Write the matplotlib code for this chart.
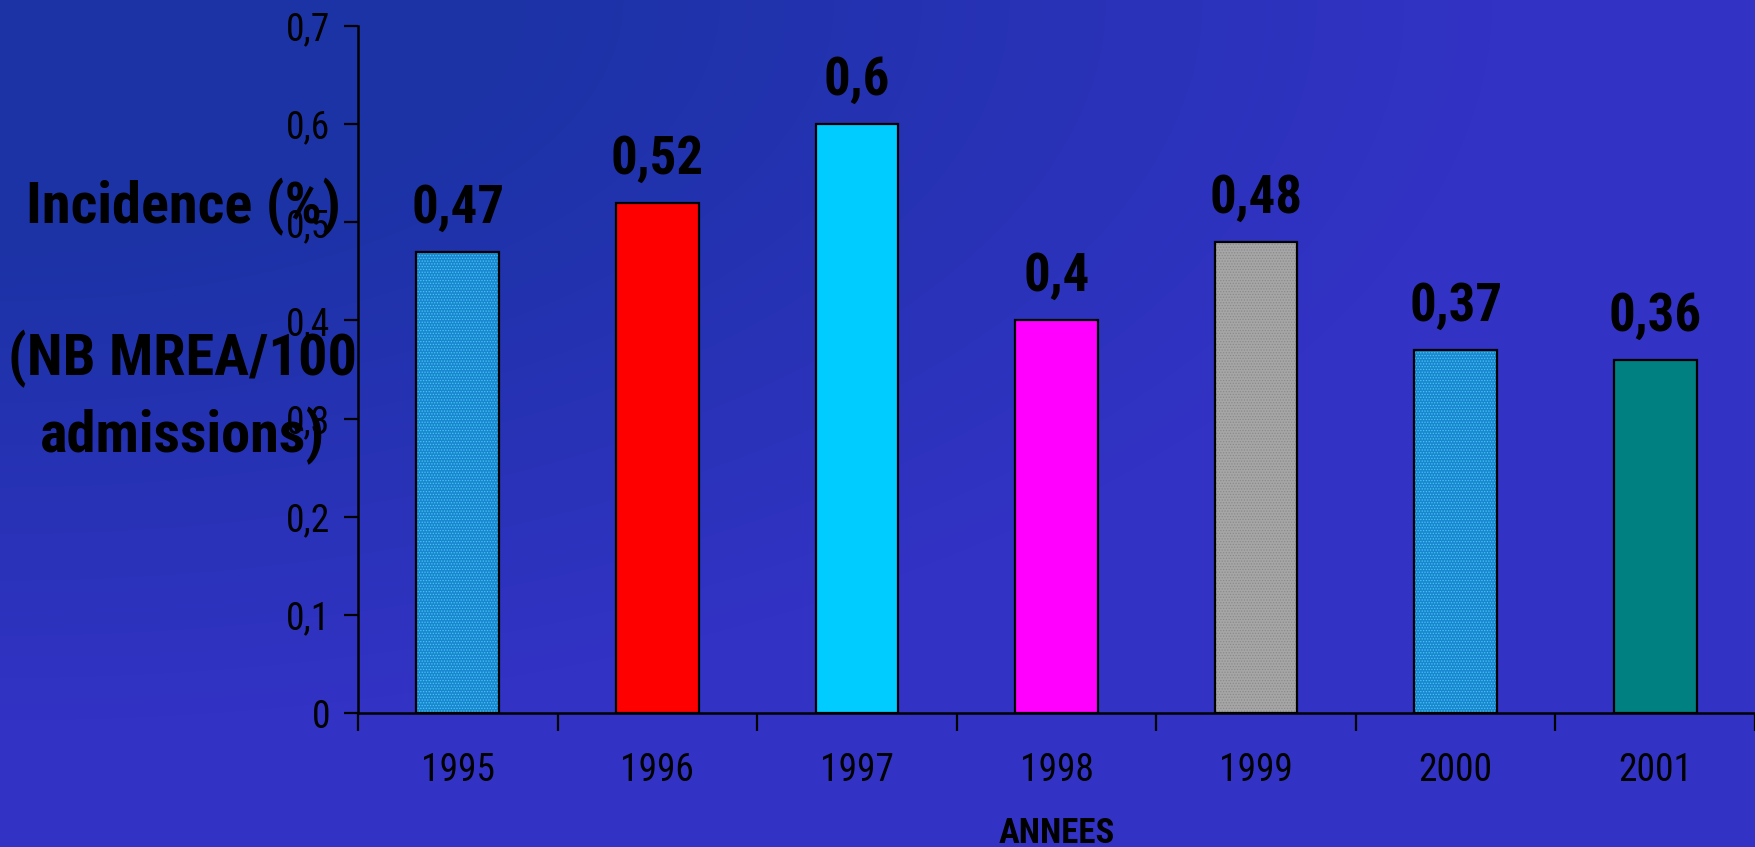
import os
import numpy as np
import matplotlib
matplotlib.use("Agg")
import matplotlib.pyplot as plt
from matplotlib import font_manager
from matplotlib.font_manager import FontProperties
from matplotlib.colors import to_rgb

# ---- data ----
years = ["1995", "1996", "1997", "1998", "1999", "2000", "2001"]
values = [0.47, 0.52, 0.60, 0.40, 0.48, 0.37, 0.36]
bar_colors = ["#1a86d0", "#ff0000", "#00ccff", "#ff00ff", "#a6a6a6", "#1a86d0", "#008080"]
hatch_colors = ["#44c8f2", None, None, None, "#8a8a8a", "#44c8f2", None]
hatches = ["......", None, None, None, "......", "......", None]
ytick_vals = [0, 0.1, 0.2, 0.3, 0.4, 0.5, 0.6, 0.7]
ytick_labels = ["0", "0,1", "0,2", "0,3", "0,4", "0,5", "0,6", "0,7"]
ylabel_lines = ["Incidence (%)", "(NB MREA/100", "admissions)"]
xlabel = "ANNEES"

# ---- font lookup: prefer a narrow / condensed sans ----
allf = [f.fname for f in font_manager.fontManager.ttflist]
for d in ["/usr/share/fonts", "/usr/local/share/fonts", os.path.expanduser("~/.fonts")]:
    if os.path.isdir(d):
        for root, _, files in os.walk(d):
            for fn in files:
                if fn.lower().endswith((".ttf", ".otf")):
                    allf.append(os.path.join(root, fn))
base = {}
for p in allf:
    base.setdefault(os.path.basename(p).lower(), p)

candidates = [
    ("LiberationSansNarrow-Regular.ttf", "LiberationSansNarrow-Bold.ttf",
     dict(tick=27, value=39, ylab=44, xlab=26)),
    ("NotoSans-Condensed.ttf", "NotoSans-CondensedBold.ttf",
     dict(tick=27, value=38, ylab=42, xlab=25)),
    ("RobotoCondensed-Regular.ttf", "RobotoCondensed-Bold.ttf",
     dict(tick=27, value=38, ylab=42, xlab=25)),
    ("DejaVuSansCondensed.ttf", "DejaVuSansCondensed-Bold.ttf",
     dict(tick=24.5, value=33, ylab=34.5, xlab=22)),
]
reg = bld = None
sizes = dict(tick=23, value=31, ylab=32, xlab=20)
for r_, b_, s_ in candidates:
    if r_.lower() in base and b_.lower() in base:
        reg, bld, sizes = base[r_.lower()], base[b_.lower()], s_
        break

if reg:
    fp_reg = lambda s: FontProperties(fname=reg, size=s)
    fp_bld = lambda s: FontProperties(fname=bld, size=s)
else:
    fp_reg = lambda s: FontProperties(family=["Liberation Sans", "DejaVu Sans"], size=s)
    fp_bld = lambda s: FontProperties(family=["Liberation Sans", "DejaVu Sans"],
                                      weight="bold", size=s)

plt.rcParams["hatch.linewidth"] = 0.6

W, H = 1755, 847
fig = plt.figure(figsize=(W / 100, H / 100), dpi=100)

# background gradient (darker navy in the top-left corner)
bg = fig.add_axes([0, 0, 1, 1], zorder=-10)
yy, xx = np.mgrid[0:H, 0:W]
r = np.sqrt((xx / W) ** 2 + (yy / H) ** 2)
t = np.clip((r - 0.3) / 0.55, 0, 1)[..., None]
c0 = np.array(to_rgb("#1c33a6"))
c1 = np.array(to_rgb("#3232c4"))
img = c0 * (1 - t) + c1 * t
bg.imshow(img, aspect="auto", interpolation="bilinear")
bg.axis("off")

ax = fig.add_axes([358 / W, 1 - 713 / H, 1 - 358 / W, (713 - 26) / H])
ax.set_facecolor("none")
x = np.arange(len(years))
bw = 0.415
for i, v in enumerate(values):
    if hatches[i]:
        ax.bar(x[i], v, width=bw, color=bar_colors[i], edgecolor=hatch_colors[i],
               hatch=hatches[i], linewidth=0, zorder=2)
        ax.bar(x[i], v, width=bw, fill=False, edgecolor="black", linewidth=1.6, zorder=3)
    else:
        ax.bar(x[i], v, width=bw, color=bar_colors[i], edgecolor="black",
               linewidth=1.6, zorder=3)
    ax.annotate(f"{v:g}".replace(".", ","), (x[i], v), xytext=(0, 21),
                textcoords="offset points", ha="center", va="baseline",
                fontproperties=fp_bld(sizes["value"]), color="black")

ax.set_xlim(-0.5, len(years) - 0.5)
ax.set_ylim(0, 0.7)
ax.set_yticks(ytick_vals)
ax.set_yticklabels(ytick_labels, fontproperties=fp_reg(sizes["tick"]))
ax.set_xticks(x)
ax.set_xticklabels(years, fontproperties=fp_reg(sizes["tick"]))
ax.set_xticks(np.arange(-0.5, len(years)), minor=True)
ax.tick_params(axis="x", which="major", length=0, pad=28, colors="black")
ax.tick_params(axis="x", which="minor", length=13, width=1.6, direction="out", color="black")
ax.tick_params(axis="y", length=10, width=1.6, direction="out", pad=10, colors="black")
for s in ["top", "right"]:
    ax.spines[s].set_visible(False)
for s in ["left", "bottom"]:
    ax.spines[s].set_linewidth(1.8)
    ax.spines[s].set_color("black")

# y label (three centred lines)
for line, yb in zip(ylabel_lines, [223, 375, 452]):
    fig.text(183 / W, 1 - yb / H, line, ha="center", va="baseline",
             fontproperties=fp_bld(sizes["ylab"]), color="black")

fig.text(1057 / W, 1 - 843 / H, xlabel, ha="center", va="baseline",
         fontproperties=fp_bld(sizes["xlab"]), color="black")

fig.savefig("out.png", dpi=100)
